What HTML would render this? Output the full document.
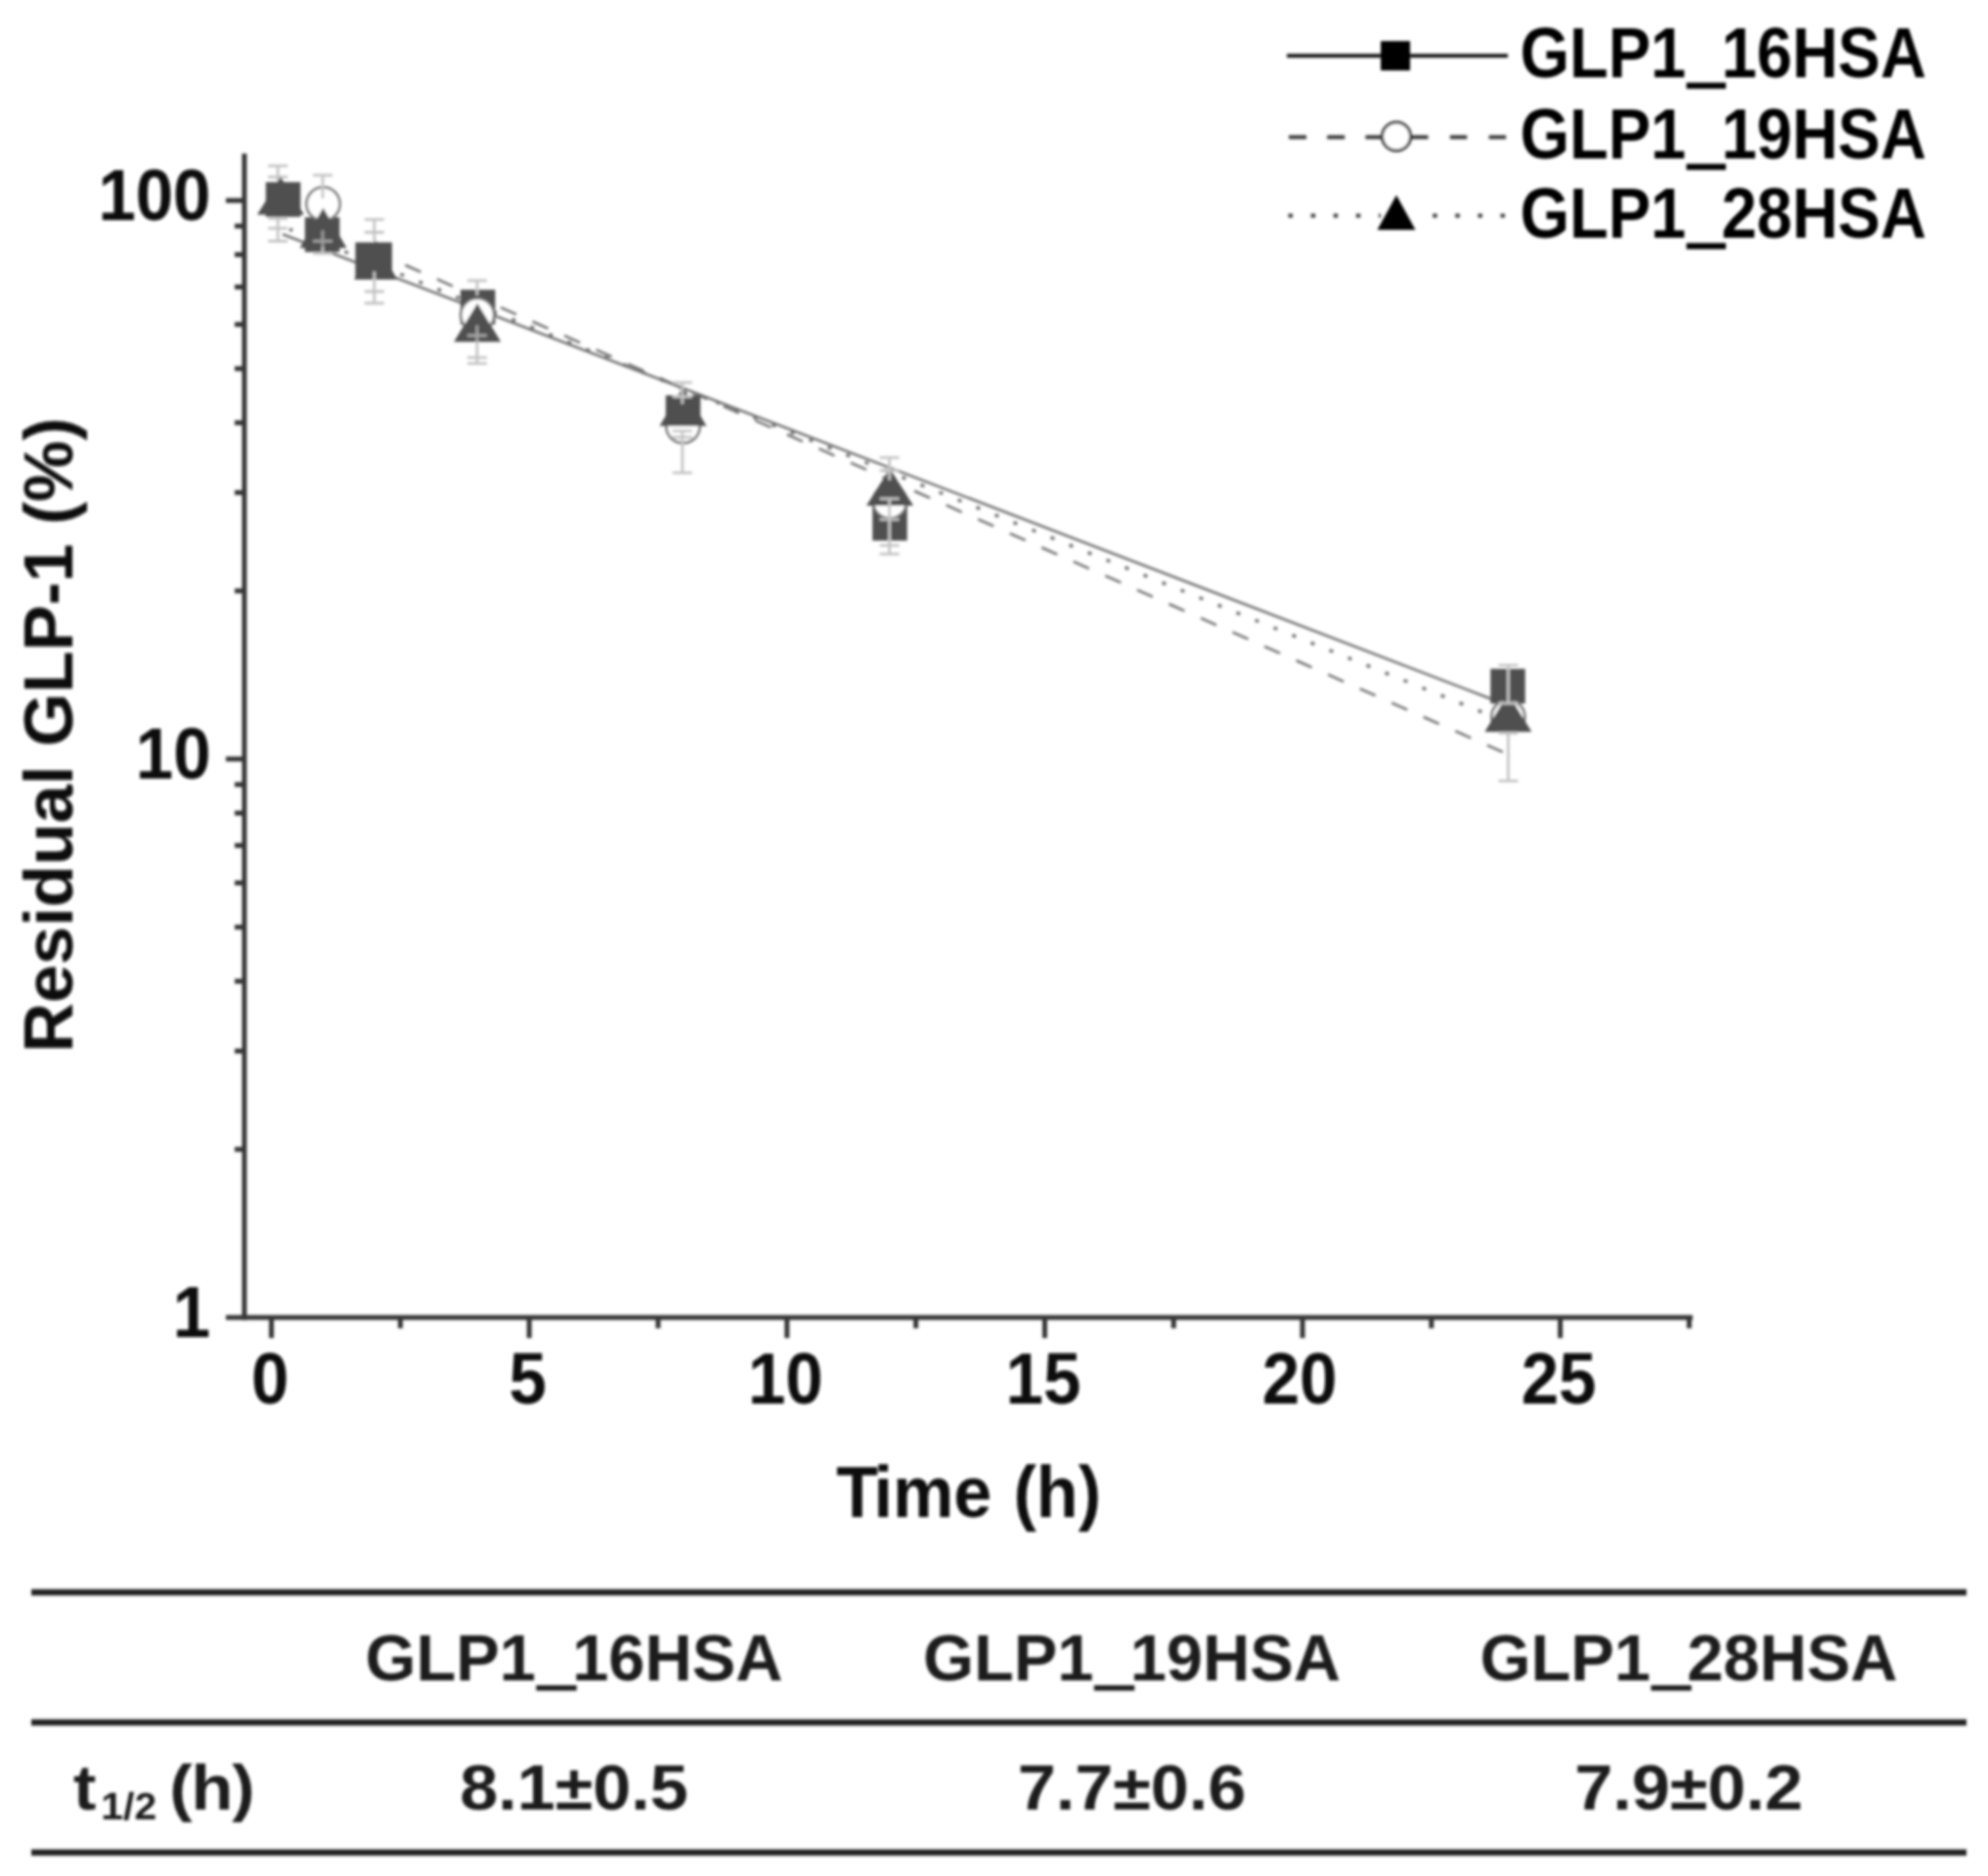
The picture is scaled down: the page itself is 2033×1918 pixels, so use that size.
<!DOCTYPE html>
<html><head><meta charset="utf-8"><title>GLP-1 half-life</title>
<style>
html,body{margin:0;padding:0;background:#fff;}
body{width:2033px;height:1918px;overflow:hidden;}
svg{display:block;}
text{font-family:"Liberation Sans",Arial,sans-serif;font-weight:bold;}
</style></head><body>
<svg width="2033" height="1918" viewBox="0 0 2033 1918">
<defs><filter id="b" x="-5%" y="-5%" width="110%" height="110%"><feGaussianBlur stdDeviation="1.4"/></filter></defs>
<rect width="2033" height="1918" fill="#fff"/>
<g filter="url(#b)">

<g stroke="#363636" stroke-width="5" fill="none">
<line x1="249.9" y1="157" x2="249.9" y2="1349.4"/>
<line x1="231" y1="1347" x2="1731" y2="1347"/>
<line x1="231" y1="205.0" x2="249.9" y2="205.0"/>
<line x1="231" y1="776.0" x2="249.9" y2="776.0"/>
<line x1="240" y1="604.1" x2="249.9" y2="604.1"/>
<line x1="240" y1="503.6" x2="249.9" y2="503.6"/>
<line x1="240" y1="432.2" x2="249.9" y2="432.2"/>
<line x1="240" y1="376.9" x2="249.9" y2="376.9"/>
<line x1="240" y1="331.7" x2="249.9" y2="331.7"/>
<line x1="240" y1="293.4" x2="249.9" y2="293.4"/>
<line x1="240" y1="260.3" x2="249.9" y2="260.3"/>
<line x1="240" y1="231.1" x2="249.9" y2="231.1"/>
<line x1="240" y1="1175.1" x2="249.9" y2="1175.1"/>
<line x1="240" y1="1074.6" x2="249.9" y2="1074.6"/>
<line x1="240" y1="1003.2" x2="249.9" y2="1003.2"/>
<line x1="240" y1="947.9" x2="249.9" y2="947.9"/>
<line x1="240" y1="902.7" x2="249.9" y2="902.7"/>
<line x1="240" y1="864.4" x2="249.9" y2="864.4"/>
<line x1="240" y1="831.3" x2="249.9" y2="831.3"/>
<line x1="240" y1="802.1" x2="249.9" y2="802.1"/>
<line x1="277.6" y1="1347" x2="277.6" y2="1368"/>
<line x1="541.2" y1="1347" x2="541.2" y2="1368"/>
<line x1="804.8" y1="1347" x2="804.8" y2="1368"/>
<line x1="1068.4" y1="1347" x2="1068.4" y2="1368"/>
<line x1="1332.0" y1="1347" x2="1332.0" y2="1368"/>
<line x1="1595.6" y1="1347" x2="1595.6" y2="1368"/>
<line x1="409.4" y1="1347" x2="409.4" y2="1358"/>
<line x1="673.0" y1="1347" x2="673.0" y2="1358"/>
<line x1="936.6" y1="1347" x2="936.6" y2="1358"/>
<line x1="1200.2" y1="1347" x2="1200.2" y2="1358"/>
<line x1="1463.8" y1="1347" x2="1463.8" y2="1358"/>
<line x1="1727.4" y1="1347" x2="1727.4" y2="1358"/>
</g>
<g stroke="#707070" stroke-width="2.5" fill="none">
<line x1="289" y1="239.5" x2="1526" y2="715"/>
<line x1="414.4" y1="271" x2="1538" y2="769.5" stroke-dasharray="17.5 18.1"/>
<line x1="1515.3" y1="727.8" x2="296" y2="234.4" stroke-width="3.4" stroke-dasharray="4 16.5"/>
</g>
<g>
<path d="M284.2 169.6V246.5M274.2 169.6H294.2M274.2 181.0H294.2M274.2 223.4H294.2M274.2 233.4H294.2M274.2 246.5H294.2" stroke="#c4c4c4" stroke-width="2.8" fill="none"/>
<rect x="271.8" y="186.2" width="35.5" height="35.5" fill="#4f4f4f"/>
<rect x="311.8" y="222.2" width="35.5" height="35.5" fill="#4f4f4f"/>
<rect x="363.4" y="247.8" width="37.5" height="37.5" fill="#4f4f4f"/>
<rect x="470.9" y="296.2" width="35.5" height="35.5" fill="#4f4f4f"/>
<rect x="680.8" y="404.2" width="35.5" height="35.5" fill="#4f4f4f"/>
<rect x="892.2" y="517.2" width="35.5" height="35.5" fill="#4f4f4f"/>
<rect x="1524.2" y="683.8" width="35.5" height="35.5" fill="#4f4f4f"/>
<circle cx="330.5" cy="208.5" r="17" fill="#fff" stroke="#707070" stroke-width="2.6"/>
<circle cx="488.2" cy="322.0" r="17" fill="#fff" stroke="#707070" stroke-width="2.6"/>
<circle cx="698.5" cy="436.0" r="17" fill="#fff" stroke="#707070" stroke-width="2.6"/>
<circle cx="910.0" cy="513.0" r="17" fill="#fff" stroke="#707070" stroke-width="2.6"/>
<circle cx="1542.3" cy="733.0" r="17" fill="#fff" stroke="#707070" stroke-width="2.6"/>
<path d="M287.0 181.0L311.0 219.5H263.0Z" fill="#4f4f4f"/>
<path d="M330.5 212.5L354.5 253.6H306.5Z" fill="#4f4f4f"/>
<path d="M384.1 245.5L406.1 285.8H362.1Z" fill="#4f4f4f"/>
<path d="M488.2 310.0L512.2 349.6H464.2Z" fill="#4f4f4f"/>
<path d="M698.5 395.5L722.5 435.6H674.5Z" fill="#4f4f4f"/>
<path d="M910.0 479.0L934.0 517.0H886.0Z" fill="#4f4f4f"/>
<path d="M1542.3 709.0L1566.3 748.2H1518.3Z" fill="#4f4f4f"/>
<path d="M330.0 179.1V203.0M320.0 179.1H340.0" stroke="#c4c4c4" stroke-width="2.8" fill="none"/>
<path d="M330.0 235.5V253.0M320.0 246.5H340.0" stroke="#9c9c9c" stroke-width="2.8" fill="none"/>
<path d="M330.0 253.0V259.1M320.0 259.1H340.0" stroke="#c4c4c4" stroke-width="2.8" fill="none"/>
<path d="M382.8 224.4V247.0M372.8 224.4H392.8M372.8 237.5H392.8" stroke="#c4c4c4" stroke-width="2.8" fill="none"/>
<path d="M382.8 277.5V310.0M372.8 298.0H392.8M372.8 310.0H392.8" stroke="#c4c4c4" stroke-width="2.8" fill="none"/>
<path d="M487.9 286.8V302.0M477.9 286.8H497.9" stroke="#c4c4c4" stroke-width="2.8" fill="none"/>
<path d="M487.9 332.5V349.6M477.9 343.0H497.9" stroke="#a4a4a4" stroke-width="2.8" fill="none"/>
<path d="M487.9 349.6V371.7M477.9 365.7H497.9M477.9 371.7H497.9" stroke="#c4c4c4" stroke-width="2.8" fill="none"/>
<path d="M697.8 391.1V413.0M687.8 391.1H707.8M687.8 405.5H707.8" stroke="#c4c4c4" stroke-width="2.8" fill="none"/>
<path d="M697.8 440.0V483.4M687.8 440.7H707.8M687.8 447.0H707.8M687.8 483.4H707.8" stroke="#c4c4c4" stroke-width="2.8" fill="none"/>
<path d="M909.6 467.8V491.0M899.6 467.8H919.6M899.6 481.0H919.6" stroke="#c4c4c4" stroke-width="2.8" fill="none"/>
<path d="M909.6 509.8V566.4M899.6 509.8H919.6M899.6 531.2H919.6M899.6 557.6H919.6M899.6 566.4H919.6" stroke="#c4c4c4" stroke-width="2.8" fill="none"/>
<path d="M1542.4 680.1V719.0M1532.4 680.1H1552.4M1532.4 719.0H1552.4" stroke="#c4c4c4" stroke-width="2.8" fill="none"/>
<path d="M1542.4 748.5V798.4M1532.4 749.5H1552.4M1532.4 798.4H1552.4" stroke="#c4c4c4" stroke-width="2.8" fill="none"/>
</g>
<g stroke="#1a1a1a" stroke-width="4" fill="none">
<line x1="1316" y1="57" x2="1542" y2="57"/>
<line x1="1318" y1="140.2" x2="1413" y2="140.2" stroke-dasharray="18 21.2" stroke="#3a3a3a"/>
<line x1="1443" y1="140.2" x2="1542" y2="140.2" stroke-dasharray="17.5 22.3" stroke="#3a3a3a"/>
<line x1="1317.5" y1="220.5" x2="1412" y2="220.5" stroke-dasharray="4.5 18.6" stroke="#3a3a3a"/>
<line x1="1465.2" y1="220.5" x2="1542" y2="220.5" stroke-dasharray="4.5 18.6" stroke="#3a3a3a"/>
</g>
<rect x="1412" y="42" width="30" height="30" fill="#000"/>
<circle cx="1428" cy="139.5" r="14.5" fill="#fff" stroke="#333" stroke-width="3"/>
<path d="M1428 199.5L1447.5 235H1408.5Z" fill="#000"/>
<text transform="translate(1554.5,78.5) scale(1,1.1)" font-size="65" text-anchor="start" fill="#000">GLP1<tspan dx="2.5" dy="1" stroke="#000" stroke-width="3">_</tspan><tspan dx="-2.5" dy="-1">16HSA</tspan></text>
<text transform="translate(1554.5,161.5) scale(1,1.1)" font-size="65" text-anchor="start" fill="#000">GLP1<tspan dx="2.5" dy="1" stroke="#000" stroke-width="3">_</tspan><tspan dx="-2.5" dy="-1">19HSA</tspan></text>
<text transform="translate(1554.5,242.5) scale(1,1.1)" font-size="65" text-anchor="start" fill="#000">GLP1<tspan dx="2.5" dy="1" stroke="#000" stroke-width="3">_</tspan><tspan dx="-2.5" dy="-1">28HSA</tspan></text>
<text transform="translate(215.5,225) scale(1,1.07)" font-size="69" text-anchor="end" fill="#0a0a0a">100</text>
<text transform="translate(215.5,796) scale(1,1.07)" font-size="69" text-anchor="end" fill="#0a0a0a">10</text>
<text transform="translate(215,1367) scale(1,1.07)" font-size="69" text-anchor="end" fill="#0a0a0a">1</text>
<text transform="translate(276.1,1435) scale(1,1.07)" font-size="69" text-anchor="middle" fill="#0a0a0a">0</text>
<text transform="translate(539.7,1435) scale(1,1.07)" font-size="69" text-anchor="middle" fill="#0a0a0a">5</text>
<text transform="translate(803.3,1435) scale(1,1.07)" font-size="69" text-anchor="middle" fill="#0a0a0a">10</text>
<text transform="translate(1066.9,1435) scale(1,1.07)" font-size="69" text-anchor="middle" fill="#0a0a0a">15</text>
<text transform="translate(1329.0,1435) scale(1,1.07)" font-size="69" text-anchor="middle" fill="#0a0a0a">20</text>
<text transform="translate(1594.1,1435) scale(1,1.07)" font-size="69" text-anchor="middle" fill="#0a0a0a">25</text>
<text transform="translate(990.6,1551.3) scale(1,1.05)" font-size="70" text-anchor="middle" fill="#0a0a0a">T<tspan dx="-4.5">ime</tspan><tspan dx="3"> (h)</tspan></text>
<text transform="translate(74,751.6) rotate(-90)" font-size="70.4" text-anchor="middle" fill="#0a0a0a">Residual GLP-1 (%)</text>
<g stroke="#222" stroke-width="6.5"><line x1="32" y1="1628" x2="2011" y2="1628"/><line x1="32" y1="1761" x2="2011" y2="1761"/><line x1="32" y1="1894" x2="2011" y2="1894"/></g>
<text transform="translate(587,1717.7) scale(1,1.01)" font-size="66.8" text-anchor="middle" fill="#1c1c1c">GLP1<tspan dx="2.5" dy="1" stroke="#1c1c1c" stroke-width="3">_</tspan><tspan dx="-2.5" dy="-1">16HSA</tspan></text>
<text transform="translate(587,1849.7) scale(1.08,1.0)" font-size="65" text-anchor="middle" fill="#1c1c1c">8.1±0.5</text>
<text transform="translate(1157.5,1717.7) scale(1,1.01)" font-size="66.8" text-anchor="middle" fill="#1c1c1c">GLP1<tspan dx="2.5" dy="1" stroke="#1c1c1c" stroke-width="3">_</tspan><tspan dx="-2.5" dy="-1">19HSA</tspan></text>
<text transform="translate(1157.5,1849.7) scale(1.08,1.0)" font-size="65" text-anchor="middle" fill="#1c1c1c">7.7±0.6</text>
<text transform="translate(1727,1717.7) scale(1,1.01)" font-size="66.8" text-anchor="middle" fill="#1c1c1c">GLP1<tspan dx="2.5" dy="1" stroke="#1c1c1c" stroke-width="3">_</tspan><tspan dx="-2.5" dy="-1">28HSA</tspan></text>
<text transform="translate(1727,1849.7) scale(1.08,1.0)" font-size="65" text-anchor="middle" fill="#1c1c1c">7.9±0.2</text>
<text transform="translate(75,1849.7) scale(1.08,1.0)" font-size="65" text-anchor="start" fill="#1c1c1c">t<tspan font-size="38" dy="10" dx="4.5">1/2</tspan><tspan dy="-10" dx="12" letter-spacing="-1">(h)</tspan></text>
</g></svg></body></html>
